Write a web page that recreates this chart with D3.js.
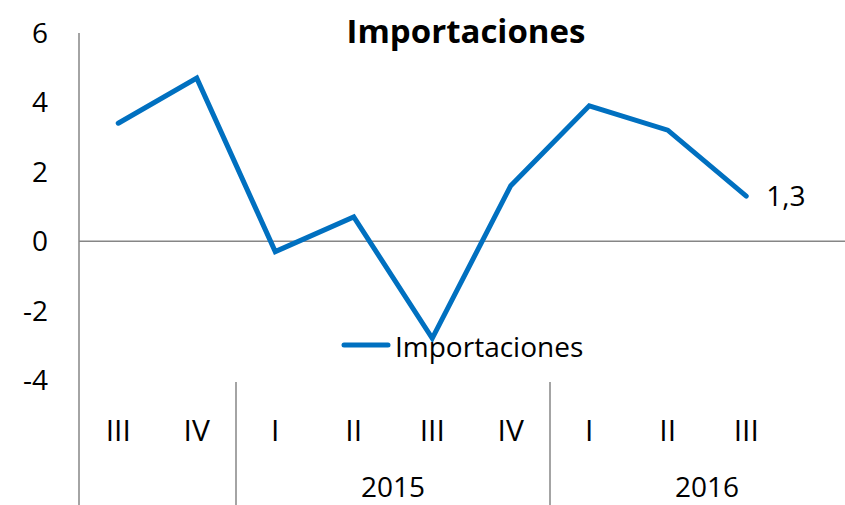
<!DOCTYPE html>
<html>
<head>
<meta charset="utf-8">
<script src="https://cdn.jsdelivr.net/npm/d3@7"></script>
<style>
  body { margin: 0; background: #fff; }
  text { font-family: "Open Sans", "Noto Sans", sans-serif; fill: #000; }
</style>
</head>
<body>
<div class="item"></div>
<script>
// datos
var quarters = ["III", "IV", "I", "II", "III", "IV", "I", "II", "III", ""];
var years = [
  { label: "", start: 0, end: 2 },
  { label: "2015", start: 2, end: 6 },
  { label: "2016", start: 6, end: 10 }
];
var importaciones = [3.4, 4.7, -0.3, 0.7, -2.8, 1.6, 3.9, 3.2, 1.3, null];
var yTicks = [-4, -2, 0, 2, 4, 6];
var titulo = "Importaciones";
var lastLabel = "1,3";

var width = 845, height = 505;
var svg = d3.select(".item").append("svg")
    .attr("width", width)
    .attr("height", height);

var x = d3.scaleBand()
    .domain(d3.range(quarters.length))
    .range([79, 864]);

var y = d3.scaleLinear()
    .domain([-4, 6])
    .range([380, 33]);

var gris = "#868686";

// eje vertical
svg.append("line")
    .attr("x1", 79).attr("x2", 79)
    .attr("y1", y(6)).attr("y2", height)
    .attr("stroke", gris).attr("stroke-width", 1.5);

// linea del cero
svg.append("line")
    .attr("x1", 79).attr("x2", width)
    .attr("y1", y(0)).attr("y2", y(0))
    .attr("stroke", gris).attr("stroke-width", 1.5);

// etiquetas eje y
svg.selectAll(".ytick")
    .data(yTicks)
    .enter().append("text")
    .attr("class", "ytick")
    .attr("x", 48)
    .attr("y", function(d){ return y(d); })
    .attr("dy", "0.36em")
    .attr("text-anchor", "end")
    .style("font-size", "28px")
    .text(function(d){ return d < 0 ? "-" + Math.abs(d) : d; });

// separadores de años
svg.selectAll(".sep")
    .data(years.slice(1))
    .enter().append("line")
    .attr("class", "sep")
    .attr("x1", function(d){ return x(d.start); })
    .attr("x2", function(d){ return x(d.start); })
    .attr("y1", 382).attr("y2", height)
    .attr("stroke", gris).attr("stroke-width", 1.5);

// trimestres
svg.selectAll(".q")
    .data(quarters)
    .enter().append("text")
    .attr("class", "q")
    .attr("x", function(d, i){ return x(i) + x.bandwidth() / 2; })
    .attr("y", 430)
    .attr("dy", "0.36em")
    .attr("text-anchor", "middle")
    .style("font-size", "30px")
    .text(function(d){ return d; });

// años
svg.selectAll(".yr")
    .data(years)
    .enter().append("text")
    .attr("class", "yr")
    .attr("x", function(d){ return x(d.start) + x.bandwidth() * (d.end - d.start) / 2; })
    .attr("y", 487)
    .attr("dy", "0.36em")
    .attr("text-anchor", "middle")
    .style("font-size", "28px")
    .text(function(d){ return d.label; });

// linea
var line = d3.line()
    .defined(function(d){ return d != null; })
    .x(function(d, i){ return x(i) + x.bandwidth() / 2; })
    .y(function(d){ return y(d); });

svg.append("path")
    .datum(importaciones)
    .attr("d", line)
    .attr("fill", "none")
    .attr("stroke", "#0070C0")
    .attr("stroke-width", 5)
    .attr("stroke-linejoin", "miter")
    .attr("stroke-linecap", "round");

// etiqueta del ultimo dato
var lastI = 8;
svg.append("text")
    .attr("x", x(lastI) + x.bandwidth() / 2 + 20)
    .attr("y", y(importaciones[lastI]))
    .attr("dy", "0.36em")
    .style("font-size", "28px")
    .text(lastLabel);

// titulo
svg.append("text")
    .attr("x", 466)
    .attr("y", 31)
    .attr("dy", "0.36em")
    .attr("text-anchor", "middle")
    .style("font-size", "33px")
    .style("font-weight", "bold")
    .text(titulo);

// leyenda
svg.append("line")
    .attr("x1", 344).attr("x2", 388)
    .attr("y1", 345).attr("y2", 345)
    .attr("stroke", "#0070C0")
    .attr("stroke-width", 5)
    .attr("stroke-linecap", "round");

svg.append("text")
    .attr("x", 395)
    .attr("y", 347)
    .attr("dy", "0.36em")
    .style("font-size", "28px")
    .text(titulo);
</script>
</body>
</html>
